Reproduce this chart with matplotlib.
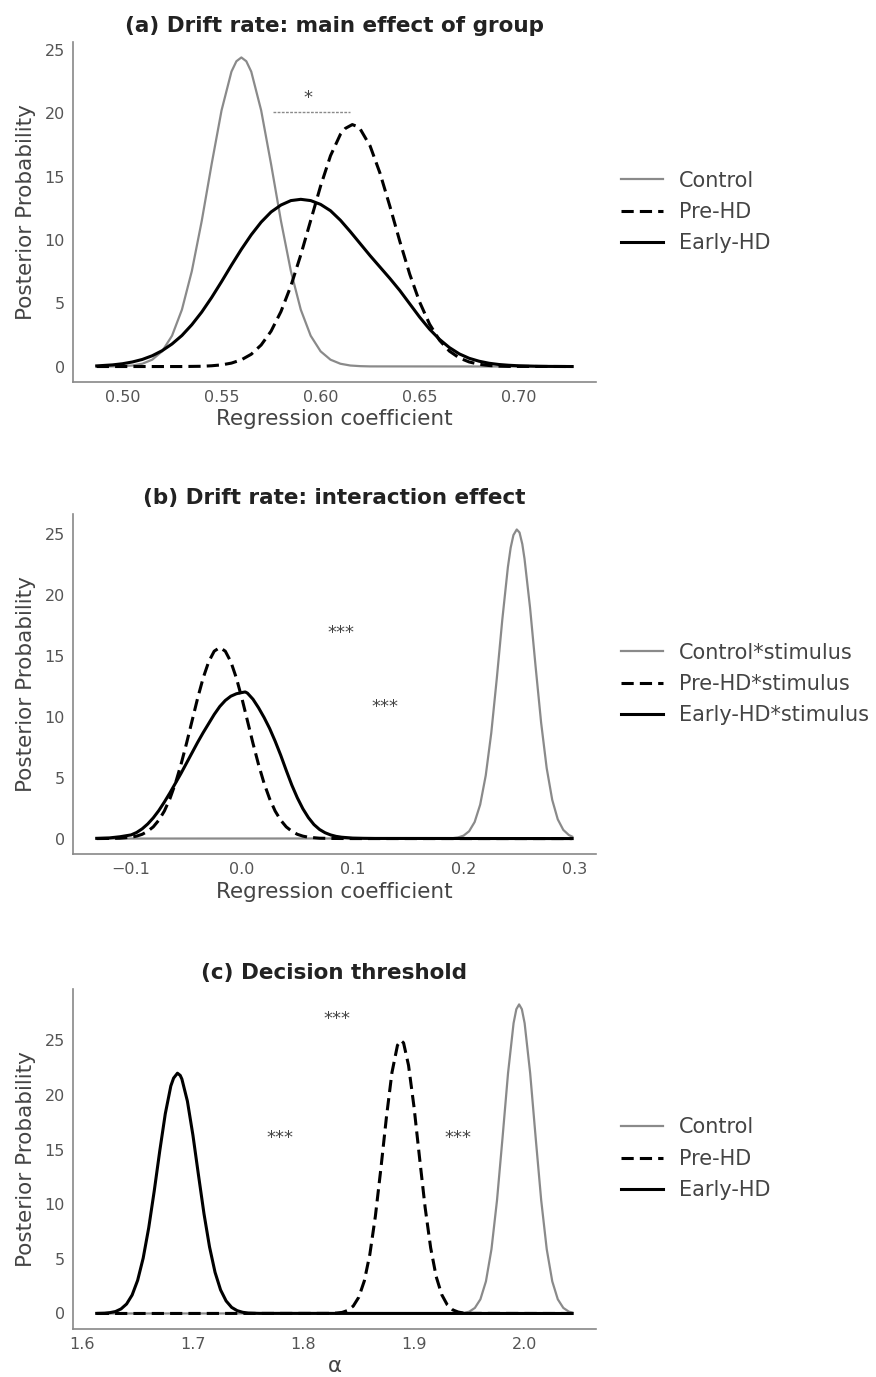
import matplotlib
matplotlib.use("Agg")
import matplotlib.pyplot as plt

# ---- data ----
# (a) drift rate: main effect of group
a_ctrl_x = [0.487, 0.495, 0.500, 0.505, 0.510, 0.515, 0.520, 0.525, 0.530, 0.535, 0.540, 0.545,
            0.550, 0.555, 0.5575, 0.560, 0.5625, 0.565, 0.570, 0.575, 0.580, 0.585, 0.590, 0.595,
            0.600, 0.605, 0.610, 0.615, 0.620, 0.625, 0.727]
a_ctrl_y = [0.0, 0.01, 0.03, 0.08, 0.22, 0.54, 1.20, 2.43, 4.49, 7.53, 11.49, 15.98,
            20.22, 23.28, 24.10, 24.40, 24.10, 23.28, 20.22, 15.98, 11.49, 7.53, 4.49, 2.43,
            1.20, 0.54, 0.22, 0.08, 0.03, 0.01, 0.0]
a_pre_x = [0.487, 0.530, 0.535, 0.540, 0.545, 0.550, 0.555, 0.560, 0.565, 0.570, 0.575, 0.580,
           0.585, 0.590, 0.595, 0.600, 0.605, 0.610, 0.6125, 0.616, 0.6185, 0.620, 0.625, 0.630,
           0.635, 0.640, 0.645, 0.650, 0.655, 0.660, 0.665, 0.670, 0.675, 0.680, 0.685, 0.690,
           0.695, 0.727]
a_pre_y = [0.0, 0.0, 0.01, 0.02, 0.06, 0.13, 0.27, 0.53, 0.97, 1.70, 2.79, 4.34,
           6.36, 8.81, 11.53, 14.25, 16.64, 18.33, 18.80, 19.10, 18.95, 18.75, 17.41, 15.26,
           12.64, 9.88, 7.29, 5.09, 3.35, 2.08, 1.22, 0.68, 0.36, 0.18, 0.08, 0.03,
           0.01, 0.0]
a_early_x = [0.487, 0.490, 0.495, 0.500, 0.505, 0.510, 0.515, 0.520, 0.525, 0.530, 0.535, 0.540,
             0.545, 0.550, 0.555, 0.560, 0.565, 0.570, 0.575, 0.580, 0.585, 0.590, 0.595, 0.600,
             0.605, 0.610, 0.615, 0.620, 0.625, 0.630, 0.635, 0.640, 0.645, 0.650, 0.655, 0.660,
             0.665, 0.670, 0.675, 0.680, 0.685, 0.690, 0.695, 0.700, 0.705, 0.710, 0.715, 0.727]
a_early_y = [0.05, 0.08, 0.13, 0.22, 0.36, 0.56, 0.85, 1.25, 1.78, 2.45, 3.30, 4.30,
             5.45, 6.70, 8.00, 9.25, 10.40, 11.40, 12.20, 12.75, 13.10, 13.20, 13.10, 12.80,
             12.30, 11.55, 10.65, 9.70, 8.75, 7.85, 6.95, 6.00, 4.95, 3.90, 2.95, 2.15,
             1.50, 1.00, 0.65, 0.42, 0.26, 0.16, 0.10, 0.06, 0.04, 0.02, 0.01, 0.0]

# (b) drift rate: interaction effect
b_ctrl_x = [-0.131, 0.185, 0.190, 0.195, 0.200, 0.205, 0.210, 0.215, 0.220, 0.225, 0.230, 0.235,
            0.240, 0.2425, 0.245, 0.248, 0.2505, 0.253, 0.255, 0.260, 0.265, 0.270, 0.275, 0.280,
            0.285, 0.290, 0.295, 0.298]
b_ctrl_y = [0.0, 0.01, 0.03, 0.09, 0.24, 0.60, 1.36, 2.79, 5.18, 8.68, 13.17, 18.03,
            22.31, 23.90, 24.94, 25.40, 25.15, 24.20, 22.99, 18.97, 14.13, 9.51, 5.79, 3.18,
            1.58, 0.71, 0.29, 0.16]
b_pre_x = [-0.131, -0.120, -0.110, -0.100, -0.095, -0.090, -0.085, -0.080, -0.075, -0.070, -0.065,
           -0.060, -0.055, -0.050, -0.045, -0.040, -0.035, -0.030, -0.025, -0.020, -0.015, -0.010,
           -0.005, 0.000, 0.005, 0.010, 0.015, 0.020, 0.025, 0.030, 0.035, 0.040, 0.045, 0.050,
           0.055, 0.060, 0.070, 0.080, 0.100, 0.298]
b_pre_y = [0.0, 0.01, 0.03, 0.11, 0.20, 0.35, 0.60, 0.96, 1.51, 2.26, 3.27,
           4.54, 6.08, 7.82, 9.67, 11.52, 13.19, 14.53, 15.40, 15.70, 15.40, 14.53,
           13.19, 11.52, 9.67, 7.82, 6.08, 4.54, 3.27, 2.26, 1.51, 0.96, 0.60, 0.35,
           0.20, 0.11, 0.03, 0.01, 0.0, 0.0]
b_early_x = [-0.131, -0.120, -0.110, -0.100, -0.095, -0.090, -0.085, -0.080, -0.075, -0.070, -0.065,
             -0.060, -0.055, -0.050, -0.045, -0.040, -0.035, -0.030, -0.025, -0.020, -0.015, -0.010,
             -0.005, 0.000, 0.003, 0.005, 0.010, 0.015, 0.020, 0.025, 0.030, 0.035, 0.040, 0.045,
             0.050, 0.055, 0.060, 0.065, 0.070, 0.075, 0.080, 0.085, 0.090, 0.100, 0.110, 0.120,
             0.298]
b_early_y = [0.02, 0.05, 0.15, 0.30, 0.50, 0.80, 1.20, 1.70, 2.30, 3.00, 3.75,
             4.55, 5.35, 6.20, 7.05, 7.90, 8.70, 9.45, 10.20, 10.85, 11.35, 11.70,
             11.90, 12.00, 12.05, 11.95, 11.45, 10.75, 9.95, 9.05, 8.00, 6.85, 5.60, 4.40,
             3.35, 2.45, 1.72, 1.15, 0.75, 0.48, 0.30, 0.18, 0.11, 0.04, 0.02, 0.01,
             0.0]

# (c) decision threshold
c_ctrl_x = [1.613, 1.940, 1.945, 1.950, 1.955, 1.960, 1.965, 1.970, 1.975, 1.980, 1.985, 1.990,
            1.9925, 1.995, 1.9975, 2.000, 2.005, 2.010, 2.015, 2.020, 2.025, 2.030, 2.035, 2.040,
            2.043]
c_ctrl_y = [0.0, 0.01, 0.05, 0.17, 0.51, 1.30, 2.94, 5.88, 10.35, 16.07, 22.01, 26.58,
            27.86, 28.30, 27.86, 26.58, 22.01, 16.07, 10.35, 5.88, 2.94, 1.30, 0.51, 0.17,
            0.09]
c_pre_x = [1.613, 1.825, 1.830, 1.835, 1.840, 1.845, 1.850, 1.855, 1.860, 1.865, 1.870, 1.875,
           1.880, 1.885, 1.888, 1.8905, 1.895, 1.900, 1.905, 1.910, 1.915, 1.920, 1.925, 1.930,
           1.935, 1.940, 1.945, 1.950, 2.043]
c_pre_y = [0.0, 0.01, 0.04, 0.10, 0.28, 0.68, 1.49, 2.98, 5.41, 8.90, 13.28, 17.97,
           22.06, 24.56, 25.00, 24.78, 22.72, 18.87, 14.22, 9.71, 6.02, 3.38, 1.73, 0.80,
           0.33, 0.13, 0.04, 0.01, 0.0]
c_early_x = [1.613, 1.620, 1.625, 1.630, 1.635, 1.640, 1.645, 1.650, 1.655, 1.660, 1.665, 1.670,
             1.675, 1.680, 1.6825, 1.686, 1.6885, 1.690, 1.695, 1.700, 1.705, 1.710, 1.715, 1.720,
             1.725, 1.730, 1.735, 1.740, 1.745, 1.750, 1.760, 2.043]
c_early_y = [0.01, 0.03, 0.08, 0.18, 0.42, 0.87, 1.69, 3.04, 5.07, 7.84, 11.22, 14.89,
             18.29, 20.83, 21.55, 22.00, 21.80, 21.47, 19.44, 16.32, 12.68, 9.13, 6.10, 3.77,
             2.16, 1.15, 0.56, 0.26, 0.11, 0.04, 0.01, 0.0]

titles = ["(a) Drift rate: main effect of group",
          "(b) Drift rate: interaction effect",
          "(c) Decision threshold"]
xlabels = ["Regression coefficient", "Regression coefficient", "\u03b1"]
legends = [["Control", "Pre-HD", "Early-HD"],
           ["Control*stimulus", "Pre-HD*stimulus", "Early-HD*stimulus"],
           ["Control", "Pre-HD", "Early-HD"]]
# significance marks: (x, y, text)
stars = [[(0.5936, 21.2, "*")],
         [(0.089, 16.9, "***"), (0.129, 10.8, "***")],
         [(1.830, 27.0, "***"), (1.779, 16.1, "***"), (1.940, 16.1, "***")]]
bracket_a = ([0.576, 0.6147], [20.1, 20.1])

series = [
    [(a_ctrl_x, a_ctrl_y), (a_pre_x, a_pre_y), (a_early_x, a_early_y)],
    [(b_ctrl_x, b_ctrl_y), (b_pre_x, b_pre_y), (b_early_x, b_early_y)],
    [(c_ctrl_x, c_ctrl_y), (c_pre_x, c_pre_y), (c_early_x, c_early_y)],
]

fig = plt.figure(figsize=(8.76, 13.77), dpi=100)
bottoms = [0.7226, 0.3798, 0.0349]

gray = "#8a8a8a"
for i in range(3):
    ax = fig.add_axes([0.0833, bottoms[i], 0.597, 0.2469])
    (cx, cy), (px, py), (ex, ey) = series[i]
    ax.plot(cx, cy, color=gray, lw=1.6, label=legends[i][0])
    ax.plot(px, py, color="black", lw=2.2, linestyle=(0, (4, 2)), label=legends[i][1])
    ax.plot(ex, ey, color="black", lw=2.2, label=legends[i][2])

    for sx, sy, s in stars[i]:
        ax.text(sx, sy, s, ha="center", va="center", fontsize=13, color="#444444")
    if i == 0:
        ax.plot(bracket_a[0], bracket_a[1], color=gray, lw=1.0, linestyle=(0, (2, 1)))

    ax.set_title(titles[i], fontsize=15.5, fontweight="bold", color="#222222", pad=7)
    ax.set_xlabel(xlabels[i], fontsize=15.5, color="#444444", labelpad=3)
    ax.set_ylabel("Posterior Probability", fontsize=15.5, color="#444444", labelpad=6)
    ax.set_yticks([0, 5, 10, 15, 20, 25])
    ax.tick_params(length=0, labelsize=11.5, labelcolor="#555555", pad=6)
    for side in ["top", "right"]:
        ax.spines[side].set_visible(False)
    for side in ["left", "bottom"]:
        ax.spines[side].set_color("#888888")
        ax.spines[side].set_linewidth(1.2)

    ax.legend(loc="center left", bbox_to_anchor=(1.012, 0.5), frameon=False,
              fontsize=15, handlelength=2.0, handletextpad=0.8, labelspacing=0.55,
              labelcolor="#444444")

fig.savefig("out.png", dpi=100)
